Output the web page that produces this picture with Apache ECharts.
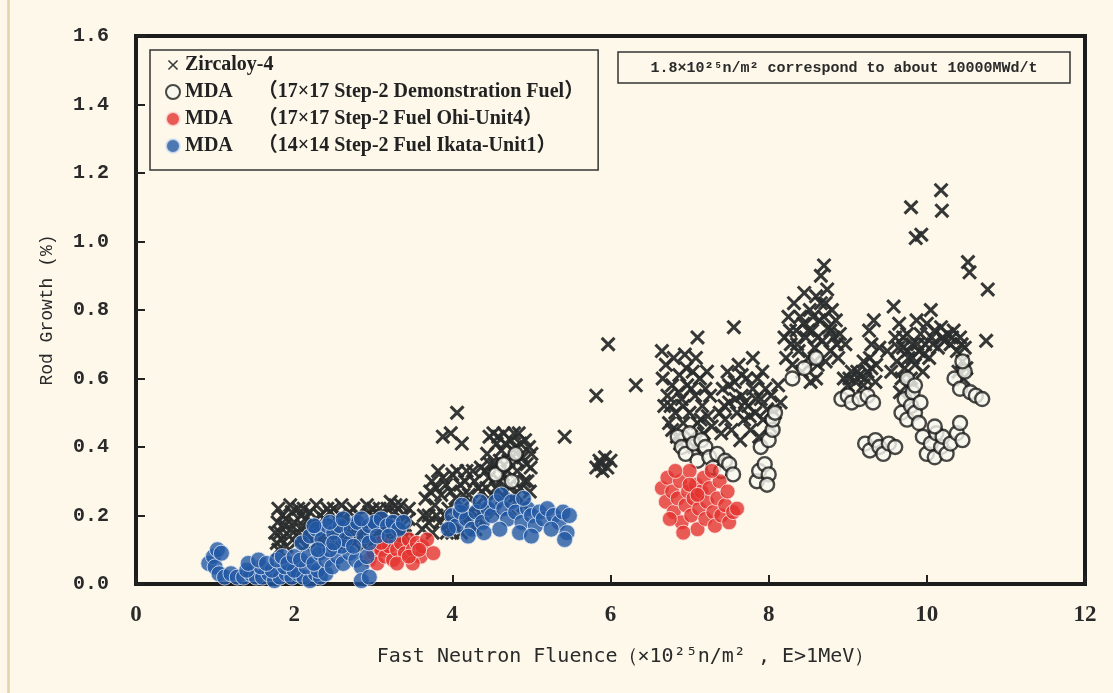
<!DOCTYPE html>
<html>
<head>
<meta charset="utf-8">
<script src="https://cdn.jsdelivr.net/npm/echarts@6/dist/echarts.min.js"></script>
<style>
  html, body { margin: 0; padding: 0; background: #fdf8ea; }
  #chart { width: 1113px; height: 693px; }
</style>
</head>
<body>
<div id="chart"></div>
<script>
// ---- axis ranges & labels ----
const xRange = { min: 0, max: 12, step: 2 };
const yRange = { min: 0, max: 1.6, step: 0.2 };
const xAxisTitle = 'Fast Neutron Fluence（×10²⁵n/m² , E>1MeV）';
const yAxisTitle = 'Rod Growth (%)';
const noteText = '1.8×10²⁵n/m² correspond to about 10000MWd/t';

const seriesNames = [
  'Zircaloy-4',
  'MDA　 （17×17 Step-2 Demonstration Fuel）',
  'MDA　 （17×17 Step-2 Fuel Ohi-Unit4）',
  'MDA　 （14×14 Step-2 Fuel Ikata-Unit1）'
];

// ---- Zircaloy-4 rods: [fluence, growth %] ----
const zircaloy = [
  [1.78,0.12],[1.9,0.11],[2.02,0.12],[2.15,0.11],[2.27,0.12],[2.4,0.11],[2.52,0.12],[2.63,0.11],[2.76,0.12],[2.88,0.11],[3.0,0.12],[3.12,0.11],[3.25,0.12],[3.36,0.13],
  [1.82,0.15],[1.94,0.14],[2.06,0.15],[2.18,0.14],[2.3,0.15],[2.43,0.14],[2.56,0.15],[2.68,0.14],[2.8,0.15],[2.93,0.14],[3.05,0.15],[3.17,0.14],[3.3,0.15],[3.42,0.16],
  [1.79,0.18],[1.88,0.17],[2.0,0.18],[2.11,0.17],[2.23,0.18],[2.35,0.17],[2.47,0.18],[2.6,0.17],[2.72,0.18],[2.84,0.17],[2.97,0.18],[3.09,0.17],[3.21,0.19],[3.34,0.18],[3.45,0.19],
  [1.85,0.2],[1.97,0.21],[2.09,0.2],[2.2,0.21],[2.33,0.2],[2.45,0.21],[2.58,0.2],[2.7,0.21],[2.82,0.2],[2.95,0.21],[3.07,0.2],[3.18,0.22],[3.28,0.21],[3.4,0.2],
  [3.22,0.24],[3.0,0.22],[2.5,0.22],[2.05,0.22],[3.35,0.23],
  [1.84,0.13],[1.96,0.16],[2.08,0.13],[2.2,0.16],[2.32,0.13],[2.44,0.16],[2.56,0.13],[2.67,0.16],[2.79,0.13],[2.9,0.16],[3.03,0.13],[3.15,0.16],[3.27,0.17],[3.4,0.14],
  [1.9,0.19],[2.14,0.19],[2.38,0.19],[2.64,0.19],[2.9,0.19],[3.12,0.2],
  [1.8,0.22],[1.95,0.23],[2.12,0.22],[2.28,0.23],[2.42,0.22],[2.6,0.23],[2.75,0.22],[2.92,0.23],[3.08,0.22],[3.28,0.23],[3.45,0.22],[1.76,0.15],[1.8,0.1],
  [3.62,0.16],[3.7,0.2],[3.66,0.25],[3.75,0.15],[3.78,0.23],[3.74,0.3],[3.84,0.18],[3.86,0.26],[3.82,0.33],[3.93,0.15],[3.95,0.22],[3.92,0.29],[4.02,0.18],[4.04,0.25],[4.0,0.32],
  [4.11,0.15],[4.12,0.22],[4.1,0.29],[4.2,0.19],[4.21,0.26],[4.18,0.33],[4.29,0.16],[4.3,0.23],[4.28,0.3],[4.38,0.2],[4.37,0.27],[4.36,0.34],
  [4.45,0.24],[4.46,0.31],[4.44,0.38],[4.47,0.43],[4.54,0.21],[4.55,0.28],[4.53,0.35],[4.56,0.41],[4.63,0.25],[4.64,0.32],[4.62,0.39],[4.65,0.44],
  [4.72,0.22],[4.73,0.29],[4.71,0.36],[4.74,0.42],[4.81,0.26],[4.82,0.33],[4.8,0.4],[4.84,0.44],[4.9,0.23],[4.91,0.3],[4.89,0.37],[4.92,0.42],[4.98,0.27],[4.99,0.34],[4.97,0.4],
  [3.7,0.18],[3.8,0.28],[3.9,0.2],[3.98,0.27],[4.08,0.2],[4.16,0.3],[4.24,0.21],[4.33,0.28],[4.42,0.33],[4.5,0.26],[4.6,0.36],[4.68,0.27],[4.77,0.39],[4.86,0.28],
  [4.94,0.35],[4.58,0.43],[4.78,0.44],[4.4,0.22],[4.0,0.15],
  [3.64,0.2],[3.72,0.27],[3.8,0.2],[3.88,0.31],[3.96,0.18],[4.06,0.33],[4.14,0.26],[4.26,0.33],[4.34,0.19],[4.43,0.28],[4.48,0.35],[4.52,0.44],[4.6,0.3],[4.67,0.41],
  [4.7,0.33],[4.76,0.25],[4.86,0.41],[4.95,0.3],[5.0,0.38],[4.82,0.36],
  [3.88,0.43],[4.06,0.5],[4.12,0.41],[3.98,0.44],[5.42,0.43],
  [5.82,0.55],[5.97,0.7],[6.32,0.58],[5.82,0.34],[5.86,0.36],[5.9,0.33],[5.93,0.37],[5.96,0.34],[6.0,0.36],[5.88,0.35],
  [6.65,0.68],[6.66,0.6],[6.7,0.64],[6.72,0.55],[6.74,0.47],[6.78,0.58],[6.8,0.66],[6.82,0.5],[6.84,0.43],[6.87,0.61],[6.9,0.54],[6.92,0.47],[6.94,0.67],[6.97,0.58],[7.0,0.5],
  [7.02,0.43],[7.04,0.62],[7.07,0.55],[7.1,0.72],[7.1,0.47],[7.13,0.6],[7.16,0.52],[7.18,0.44],[7.2,0.57],[7.23,0.49],[7.26,0.55],[7.28,0.46],[6.88,0.41],[7.06,0.4],[6.76,0.52],
  [6.68,0.52],[6.86,0.56],[6.96,0.63],[7.08,0.66],[7.14,0.48],[7.22,0.62],[6.78,0.45],[6.92,0.52],[7.02,0.57],
  [7.38,0.5],[7.4,0.44],[7.42,0.57],[7.45,0.48],[7.48,0.62],[7.5,0.53],[7.53,0.45],[7.56,0.75],[7.57,0.59],[7.6,0.5],[7.62,0.64],[7.64,0.42],[7.66,0.55],[7.69,0.48],
  [7.72,0.6],[7.74,0.52],[7.77,0.45],[7.8,0.66],[7.8,0.57],[7.83,0.5],[7.86,0.6],[7.88,0.43],[7.9,0.54],[7.93,0.48],[7.96,0.57],[7.98,0.51],[8.02,0.46],[8.03,0.55],
  [8.08,0.5],[8.12,0.58],[8.15,0.53],
  [7.5,0.58],[7.58,0.54],[7.66,0.61],[7.7,0.53],[7.84,0.54],[7.92,0.62],[7.76,0.49],[7.44,0.52],
  [8.2,0.72],[8.22,0.66],[8.25,0.78],[8.28,0.7],[8.3,0.64],[8.32,0.82],[8.35,0.74],[8.38,0.68],[8.4,0.78],[8.42,0.62],[8.45,0.85],[8.47,0.72],[8.5,0.66],[8.52,0.8],
  [8.53,0.59],[8.55,0.74],[8.58,0.69],[8.6,0.84],[8.62,0.64],[8.64,0.77],[8.66,0.9],[8.7,0.93],[8.68,0.71],[8.72,0.82],[8.74,0.86],[8.76,0.75],[8.78,0.68],[8.8,0.8],
  [8.82,0.72],[8.85,0.77],[8.88,0.66],[8.9,0.73],[8.97,0.7],[8.6,0.6],
  [8.27,0.74],[8.36,0.7],[8.44,0.76],[8.5,0.74],[8.56,0.78],[8.62,0.72],[8.7,0.78],[8.78,0.74],[8.86,0.7],[8.66,0.82],[8.58,0.65],[8.72,0.65],
  [8.95,0.6],[9.0,0.58],[9.05,0.62],[9.1,0.59],[9.15,0.61],[9.2,0.58],[9.25,0.62],[9.28,0.66],[9.3,0.7],[9.27,0.74],[9.33,0.77],[9.36,0.64],[9.4,0.69],[9.2,0.65],[9.35,0.59],
  [9.02,0.6],[9.12,0.62],[9.22,0.6],[9.3,0.63],
  [9.5,0.68],[9.55,0.62],[9.58,0.81],[9.6,0.72],[9.62,0.65],[9.65,0.76],[9.68,0.6],[9.7,0.69],[9.72,0.63],[9.75,0.73],[9.77,0.66],[9.8,0.6],[9.82,0.7],[9.85,0.64],
  [9.87,0.77],[9.9,0.68],[9.92,0.73],[9.95,0.62],[9.98,0.7],[10.0,0.76],[10.03,0.66],[10.06,0.72],[10.1,0.74],[10.14,0.69],[10.18,0.75],[10.22,0.71],[10.26,0.73],
  [10.3,0.7],[10.34,0.74],[10.38,0.68],[10.42,0.72],[10.45,0.65],[10.48,0.69],[10.5,0.63],[10.46,0.6],[10.4,0.62],[9.66,0.56],[9.78,0.57],
  [9.7,0.72],[9.76,0.68],[9.88,0.7],[9.96,0.67],[10.08,0.7],[10.2,0.72],[10.32,0.72],[10.44,0.7],[9.64,0.69],[9.82,0.66],
  [9.8,1.1],[10.18,1.15],[10.19,1.09],[9.86,1.01],[9.93,1.02],[10.52,0.94],[10.54,0.91],[10.77,0.86],[10.75,0.71],[10.05,0.8]
];

// ---- MDA 17x17 demonstration fuel ----
const mdaDemo = [
  [4.55,0.32],[4.65,0.35],[4.75,0.3],[4.8,0.38],[2.4,0.17],[2.9,0.19],
  [6.85,0.43],[6.9,0.4],[6.95,0.38],[7.0,0.44],[7.05,0.41],[7.1,0.36],[7.15,0.42],[7.2,0.4],[7.25,0.37],[7.3,0.34],[7.35,0.38],[7.4,0.33],[7.45,0.36],[7.5,0.35],[7.55,0.32],
  [7.85,0.3],[7.88,0.33],[7.95,0.35],[8.0,0.32],[7.98,0.29],[7.9,0.4],[8.0,0.42],[8.05,0.45],[8.05,0.48],[8.08,0.5],
  [8.3,0.6],[8.45,0.63],[8.6,0.66],
  [8.92,0.54],[9.0,0.55],[9.05,0.53],[9.15,0.54],[9.25,0.55],[9.32,0.53],
  [9.22,0.41],[9.28,0.39],[9.35,0.42],[9.4,0.4],[9.45,0.38],[9.52,0.41],[9.6,0.4],
  [9.68,0.5],[9.72,0.54],[9.75,0.48],[9.8,0.52],[9.82,0.56],[9.85,0.5],[9.9,0.47],[9.92,0.53],[9.75,0.6],[9.85,0.58],
  [9.95,0.43],[10.0,0.38],[10.05,0.41],[10.1,0.37],[10.12,0.44],[10.18,0.4],[10.2,0.43],[10.25,0.38],[10.3,0.41],[10.38,0.44],[10.42,0.47],[10.45,0.42],[10.1,0.46],
  [10.35,0.6],[10.42,0.57],[10.48,0.62],[10.55,0.56],[10.62,0.55],[10.7,0.54],[10.45,0.65]
];

// ---- MDA 17x17 Ohi-Unit4 ----
const mdaOhi = [
  [2.95,0.07],[3.0,0.09],[3.05,0.06],[3.1,0.1],[3.15,0.08],[3.2,0.11],[3.25,0.07],[3.3,0.1],[3.35,0.12],[3.4,0.09],[3.45,0.13],[3.5,0.1],[3.55,0.12],[3.6,0.08],
  [3.62,0.11],[3.68,0.13],[3.76,0.09],[3.3,0.06],[3.5,0.06],[3.45,0.08],[3.1,0.12],[3.58,0.1],
  [6.65,0.28],[6.7,0.24],[6.72,0.31],[6.78,0.27],[6.8,0.21],[6.85,0.25],[6.88,0.3],[6.9,0.18],[6.95,0.23],[6.98,0.27],[7.0,0.33],[7.02,0.2],[7.05,0.25],[7.08,0.29],
  [7.1,0.16],[7.12,0.22],[7.15,0.27],[7.18,0.31],[7.2,0.19],[7.22,0.24],[7.25,0.28],[7.3,0.21],[7.32,0.17],[7.35,0.25],[7.38,0.3],[7.4,0.2],[7.45,0.23],[7.5,0.18],
  [7.55,0.21],[6.82,0.33],[6.92,0.15],[7.28,0.33],[6.75,0.19],[7.48,0.27],[7.6,0.22],[7.0,0.29],[7.1,0.26]
];

// ---- MDA 14x14 Ikata-Unit1 ----
const mdaIkata = [
  [0.92,0.06],[0.98,0.08],[1.03,0.1],[1.0,0.05],[1.08,0.09],[1.05,0.03],
  [1.12,0.02],[1.2,0.03],[1.28,0.02],[1.36,0.02],[1.45,0.03],[1.52,0.02],[1.6,0.02],[1.68,0.03],[1.75,0.01],[1.82,0.02],[1.9,0.03],[1.97,0.02],[2.05,0.03],[2.12,0.02],
  [2.2,0.01],[2.27,0.03],[2.33,0.02],[1.4,0.04],[1.58,0.05],[1.72,0.04],[1.88,0.05],[2.0,0.04],[2.15,0.05],[2.3,0.04],[2.4,0.03],
  [1.42,0.06],[1.55,0.07],[1.65,0.06],[1.78,0.07],[1.85,0.08],[1.92,0.06],[2.0,0.08],[2.08,0.07],[2.18,0.08],[2.25,0.06],[2.32,0.09],[2.4,0.07],[2.48,0.05],
  [2.55,0.08],[2.62,0.06],[2.7,0.09],[2.78,0.07],[2.85,0.05],[2.92,0.08],[2.6,0.11],[2.45,0.1],[2.85,0.01],[2.95,0.02],
  [2.1,0.12],[2.2,0.14],[2.28,0.16],[2.35,0.13],[2.42,0.17],[2.5,0.15],[2.58,0.17],[2.65,0.13],[2.72,0.16],[2.8,0.18],[2.88,0.14],[2.95,0.17],[3.02,0.18],
  [3.1,0.19],[3.18,0.17],[3.25,0.18],[3.32,0.16],[2.3,0.1],[2.5,0.12],[2.75,0.11],[2.95,0.12],[3.05,0.14],[3.2,0.14],[3.38,0.18],[2.25,0.17],[2.45,0.18],[2.62,0.19],[2.85,0.19],
  [4.0,0.2],[4.05,0.17],[4.1,0.21],[4.18,0.19],[4.25,0.16],[4.3,0.21],[4.38,0.18],[4.45,0.22],[4.5,0.2],[4.55,0.24],[4.62,0.26],[4.65,0.22],[4.7,0.19],[4.75,0.24],
  [4.8,0.21],[4.88,0.18],[4.95,0.22],[5.0,0.2],[5.05,0.17],[5.1,0.21],[5.15,0.19],[5.2,0.22],[5.28,0.2],[5.35,0.18],[5.4,0.21],[5.45,0.15],[5.48,0.2],[5.42,0.13],
  [4.2,0.14],[4.4,0.15],[4.6,0.16],[4.85,0.15],[5.0,0.14],[5.25,0.16],[4.12,0.23],[4.35,0.24],[4.9,0.25],[3.95,0.16]
];

// X-shaped marker as a filled outline (two crossing bars)
const crossMark = 'path://M2.91,0.09L19.91,17.09L17.09,19.91L0.09,2.91Z M17.09,0.09L19.91,2.91L2.91,19.91L0.09,17.09Z';
// smaller cross for the legend, padded inside its box
const crossIcon = 'path://M0,0L0.05,0L0,0.05Z M20,20L19.95,20L20,19.95Z M4.28,2.72L17.28,15.72L15.72,17.28L2.72,4.28Z M15.72,2.72L17.28,4.28L4.28,17.28L2.72,15.72Z';

const chart = echarts.init(document.getElementById('chart'), null, { renderer: 'canvas' });

const option = {
  backgroundColor: '#fdf8ea',
  animation: false,
  grid: {
    left: 136, right: 28, top: 36, bottom: 109,
    show: true, borderColor: '#1c1c1c', borderWidth: 4, backgroundColor: 'transparent'
  },
  legend: {
    orient: 'vertical',
    left: 150, top: 50,
    padding: [5, 14, 14, 15],
    itemGap: 7,
    itemWidth: 14, itemHeight: 14,
    borderColor: '#333', borderWidth: 1.5,
    textStyle: { fontFamily: '"Liberation Serif", "Noto Sans CJK SC", serif', fontWeight: 'bold', fontSize: 20, color: '#222', lineHeight: 20 },
    data: [
      { name: seriesNames[0], icon: crossIcon },
      { name: seriesNames[1], icon: 'circle' },
      { name: seriesNames[2], icon: 'circle' },
      { name: seriesNames[3], icon: 'circle' }
    ]
  },
  xAxis: {
    type: 'value', min: xRange.min, max: xRange.max, interval: xRange.step,
    axisLine: { show: false },
    axisTick: { show: true, inside: true, length: 9, lineStyle: { color: '#222', width: 2 } },
    splitLine: { show: false },
    axisLabel: { margin: 20, fontFamily: '"Liberation Serif", serif', fontWeight: 'bold', fontSize: 23, color: '#2a2a2a' },
    name: xAxisTitle, nameLocation: 'middle', nameGap: 63,
    nameTextStyle: { fontFamily: '"DejaVu Sans Mono", monospace', fontSize: 20, color: '#2a2a2a', padding: [0, 0, 0, 30] }
  },
  yAxis: {
    type: 'value', min: yRange.min, max: yRange.max, interval: yRange.step,
    axisLine: { show: false },
    axisTick: { show: true, inside: true, length: 9, lineStyle: { color: '#222', width: 2 } },
    splitLine: { show: false },
    axisLabel: { margin: 27, fontFamily: '"Liberation Mono", monospace', fontWeight: 'bold', fontSize: 20, color: '#2a2a2a',
      formatter: v => v.toFixed(1) },
    name: yAxisTitle, nameLocation: 'middle', nameGap: 80,
    nameTextStyle: { fontFamily: '"Liberation Mono", monospace', fontSize: 18, color: '#2a2a2a' }
  },
  series: [
    {
      name: seriesNames[0], type: 'scatter', data: zircaloy,
      symbol: crossMark, symbolSize: 15,
      itemStyle: { color: '#2a2d2d', opacity: 0.95 }
    },
    {
      name: seriesNames[1], type: 'scatter', data: mdaDemo,
      symbol: 'circle', symbolSize: 14,
      itemStyle: { color: '#f8f7f0', borderColor: '#1a1a1a', borderWidth: 2.4 }
    },
    {
      name: seriesNames[2], type: 'scatter', data: mdaOhi,
      symbol: 'circle', symbolSize: 15,
      itemStyle: { color: '#e3322e', borderColor: '#fbe6e2', borderWidth: 1 }
    },
    {
      name: seriesNames[3], type: 'scatter', data: mdaIkata,
      symbol: 'circle', symbolSize: 16,
      itemStyle: { color: '#2257a4', borderColor: '#dce6f4', borderWidth: 1 }
    }
  ],
  graphic: [
    { type: 'line', shape: { x1: 8.5, y1: 0, x2: 8.5, y2: 693 }, style: { stroke: '#e4d2ad', lineWidth: 2.5 }, silent: true },
    { type: 'rect', shape: { x: 618, y: 52, width: 452, height: 31 }, style: { fill: 'transparent', stroke: '#333', lineWidth: 1.5 }, silent: true },
    { type: 'text', x: 844, y: 68, style: { text: noteText, fill: '#2a2a2a', align: 'center', verticalAlign: 'middle',
        font: 'bold 15px "Liberation Mono", "DejaVu Sans Mono", monospace' }, silent: true }
  ]
};

chart.setOption(option);
</script>
</body>
</html>
